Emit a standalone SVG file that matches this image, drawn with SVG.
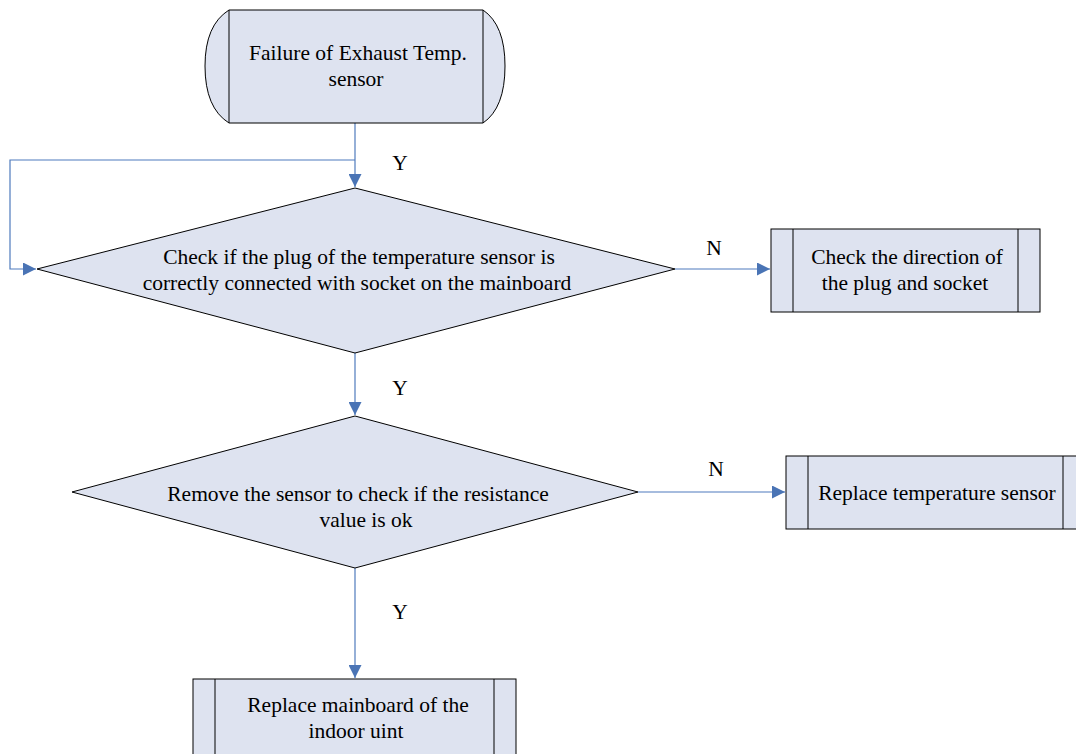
<svg xmlns="http://www.w3.org/2000/svg" width="1076" height="754" viewBox="0 0 1076 754">
<style>
.s{fill:#dee3f0;stroke:#000;stroke-width:1}
.l{fill:none;stroke:#000;stroke-width:1}
.c{fill:none;stroke:#4f7bbd;stroke-width:1.2}
.t{font-family:"Liberation Serif","Times New Roman",serif;font-size:21.5px;fill:#000;text-anchor:middle}
</style>
<defs>
<marker id="a" viewBox="0 0 10 10" refX="10" refY="5" markerWidth="13" markerHeight="13" markerUnits="userSpaceOnUse" orient="auto">
<path d="M0,0 L10,5 L0,10 z" fill="#4a74b5"/>
</marker>
</defs>
<rect width="1076" height="754" fill="#fff"/>
<g id="connectors">
<path class="c" d="M355,123 V187" marker-end="url(#a)"/>
<path class="c" d="M355,160 H10 V269 H36" marker-end="url(#a)"/>
<path class="c" d="M675,269 H770" marker-end="url(#a)"/>
<path class="c" d="M355,353 V415" marker-end="url(#a)"/>
<path class="c" d="M638,492 H785" marker-end="url(#a)"/>
<path class="c" d="M355,568 V678" marker-end="url(#a)"/>
<text class="t" x="400" y="170">Y</text>
<text class="t" x="714" y="255">N</text>
<text class="t" x="400" y="395">Y</text>
<text class="t" x="716" y="476">N</text>
<text class="t" x="400" y="619">Y</text>
</g>
<g id="start">
<path class="s" d="M229,10 H483 Q505,25 505,66 Q505,108 483,123 H229 Q205,108 205,66 Q205,25 229,10 Z"/>
<path class="l" d="M229,10 V123 M483,10 V123"/>
<text class="t" x="358" y="60">Failure of Exhaust Temp.</text>
<text class="t" x="356" y="86">sensor</text>
</g>
<g id="check-plug">
<path class="s" d="M355,188 L675,269 L355,353 L37,269 Z"/>
<text class="t" x="359" y="264">Check if the plug of the temperature sensor  is</text>
<text class="t" x="357" y="290">correctly connected with socket on the mainboard</text>
</g>
<g id="check-direction">
<rect class="s" x="771" y="229" width="269" height="83"/>
<path class="l" d="M793,229 V312 M1018,229 V312"/>
<text class="t" x="907" y="264">Check the direction of</text>
<text class="t" x="905" y="290">the plug and socket</text>
</g>
<g id="check-resistance">
<path class="s" d="M355,416 L638,492 L355,568 L72,492 Z"/>
<text class="t" x="358" y="501">Remove the sensor to check if the resistance</text>
<text class="t" x="366" y="527">value is ok</text>
</g>
<g id="replace-sensor">
<rect class="s" x="786" y="456" width="300" height="73"/>
<path class="l" d="M808,456 V529 M1063,456 V529"/>
<text class="t" x="937" y="500">Replace temperature sensor</text>
</g>
<g id="replace-mainboard">
<rect class="s" x="193" y="679" width="323" height="90"/>
<path class="l" d="M215,679 V769 M494,679 V769"/>
<text class="t" x="358" y="712">Replace mainboard of the</text>
<text class="t" x="356" y="738">indoor uint</text>
</g>
</svg>
